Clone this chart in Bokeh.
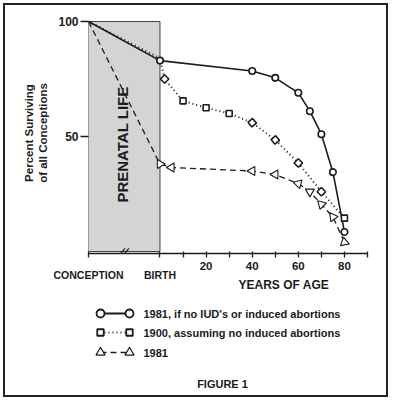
import math
from bokeh.plotting import figure
from bokeh.models import Range1d, FixedTicker, LinearAxis, Title
from bokeh.layouts import column
from bokeh.core.properties import value
from bokeh.embed import file_html
from bokeh.resources import INLINE

# ---------------- data ----------------
conception_pos = -31          # position of "CONCEPTION" on the age axis
start_pct = 100               # everybody alive at conception

ages_no_iud = [0, 40, 50, 60, 65, 70, 75, 80]
pct_no_iud = [83, 78.5, 75.5, 69, 61, 51, 34.5, 8.5]

ages_1900 = [0, 2, 10, 20, 30, 40, 50, 60, 70, 80]
pct_1900 = [84, 75, 65.5, 62.5, 60, 56, 48.5, 38.5, 26, 14.5]

ages_1981 = [0, 5, 40, 50, 60, 65, 70, 75, 80]
pct_1981 = [38, 36.5, 35, 33.5, 29.5, 26, 20.5, 15, 4]

age_ticks = [0, 10, 20, 30, 40, 50, 60, 70, 80, 90]
age_tick_labels = ["", "", "20", "", "40", "", "60", "", "80", ""]
stage_labels = ["CONCEPTION", "BIRTH"]
pct_ticks = [50, 100]

legend_labels = ["1981, if no IUD's or induced abortions",
                 "1900, assuming no induced abortions",
                 "1981"]

# ---------------- styles ----------------
FONT = "Liberation Sans"
INK = "#1b1b1b"
square_angles_deg = [45, 0, 0, 0, 40, 40, 45, 45, 0]
triangle_angles_deg = [-90, 90, 90, 90, 75, 60, 45, 35, 10]

# geometry (page pixels)
OX, OY = 5, 5                 # inside of the outer border
W = 381
FR_L, FR_R, FR_T, FR_B = 88, 367, 12, 253
P_BOTTOM = 297
Q_BOTTOM = 395
PX_PER = 2.3
Y0 = -(FR_B - 251) / PX_PER
Y1 = Y0 + (FR_B - FR_T) / PX_PER
X0, X1 = conception_pos, 90

BL = FR_L - OX
BR = W - BL - (FR_R - FR_L)

p = figure(width=W, height=P_BOTTOM - OY, output_backend="svg", toolbar_location=None,
           x_range=Range1d(X0, X1), y_range=Range1d(Y0, Y1),
           frame_width=FR_R - FR_L, frame_height=FR_B - FR_T,
           min_border_left=BL, min_border_right=BR,
           min_border_top=FR_T - OY, min_border_bottom=P_BOTTOM - FR_B)
p.outline_line_color = None
p.xgrid.visible = False
p.ygrid.visible = False

# x axis (numbers)
xa = p.xaxis[0]
xa.ticker = FixedTicker(ticks=[conception_pos] + age_ticks)
xa.major_label_overrides = {t: l for t, l in zip(age_ticks, age_tick_labels)}
xa.major_label_overrides[conception_pos] = ""
xa.axis_line_color = INK
xa.axis_line_width = 1.5
xa.major_tick_line_color = INK
xa.major_tick_line_width = 1.3
xa.major_tick_in = 2
xa.major_tick_out = 4
xa.minor_tick_line_color = None
xa.major_label_standoff = 4
xa.major_label_text_font = FONT
xa.major_label_text_font_style = "bold"
xa.major_label_text_font_size = "11.5px"
xa.major_label_text_color = INK

# second x axis row: CONCEPTION / BIRTH
xb = LinearAxis(ticker=FixedTicker(ticks=[conception_pos, 0]),
                major_label_overrides={conception_pos: stage_labels[0], 0: stage_labels[1]},
                axis_line_color=None, major_tick_line_color=None, minor_tick_line_color=None,
                major_tick_in=0, major_tick_out=0, major_label_standoff=-4,
                major_label_text_font=FONT, major_label_text_font_style="bold",
                major_label_text_font_size="10.5px", major_label_text_color=INK)
p.add_layout(xb, "below")

p.add_layout(Title(text="YEARS OF AGE", align="left", offset=238 - FR_L, standoff=-12,
                   vertical_align="top",
                   text_font=FONT, text_font_style="bold", text_font_size="12px",
                   text_color=INK), "below")

# y axis
ya = p.yaxis[0]
ya.ticker = FixedTicker(ticks=pct_ticks)
ya.axis_line_color = None
ya.major_tick_line_color = INK
ya.major_tick_line_width = 1.3
ya.major_tick_in = 0
ya.major_tick_out = 8
ya.minor_tick_line_color = None
ya.major_label_standoff = 2
ya.major_label_text_font = FONT
ya.major_label_text_font_style = "bold"
ya.major_label_text_font_size = "12px"
ya.major_label_text_color = INK
ya.axis_label = "of all Conceptions"
ya.axis_label_standoff = 6
ya.axis_label_text_font = FONT
ya.axis_label_text_font_style = "bold"
ya.axis_label_text_font_size = "11.5px"
ya.axis_label_text_color = INK

yb = LinearAxis(ticker=FixedTicker(ticks=[]), axis_line_color=None,
                major_tick_line_color=None, minor_tick_line_color=None,
                major_tick_in=0, major_tick_out=0, major_label_standoff=0,
                axis_label="Percent Surviving", axis_label_standoff=0,
                axis_label_text_font=FONT, axis_label_text_font_style="bold",
                axis_label_text_font_size="11.5px", axis_label_text_color=INK)
p.add_layout(yb, "left")

# prenatal shaded box
p.quad(left=[conception_pos], right=[0], bottom=[0], top=[start_pct],
       fill_color="#d4d4d4", line_color="#444444", line_width=1)
p.text(x=[conception_pos / 2 - 0.8], y=[start_pct / 2 - 3.5], text=["PRENATAL LIFE"],
       angle=math.pi / 2, text_align="center", text_baseline="middle",
       text_font=value(FONT), text_font_style="bold", text_font_size="15px",
       text_color=INK)

# axis break marks
for off in (-16.1, -14.4):
    p.line([off - 0.9, off + 0.9], [Y0, Y0 + 2.2], line_color=INK, line_width=1.2)

# lines
p.line([conception_pos] + ages_no_iud, [start_pct] + pct_no_iud,
       line_color=INK, line_width=1.6)
p.line([conception_pos] + ages_1900, [start_pct] + pct_1900,
       line_color=INK, line_width=2, line_dash="1 3")
p.line([conception_pos] + ages_1981, [start_pct] + pct_1981,
       line_color=INK, line_width=1.3, line_dash="6 4")

# markers
p.scatter(ages_no_iud, pct_no_iud, marker="circle", size=6.5,
          fill_color="white", line_color=INK, line_width=1.6)
p.scatter(ages_1900[1:], pct_1900[1:], marker="square", size=6,
          angle=[math.radians(a) for a in square_angles_deg],
          fill_color="white", line_color=INK, line_width=1.6)
p.scatter(ages_1981, pct_1981, marker="triangle", size=9,
          angle=[math.radians(a) for a in triangle_angles_deg],
          fill_color="white", line_color=INK, line_width=1.1)

# ---------------- legend / caption panel ----------------
q = figure(width=W, height=Q_BOTTOM - P_BOTTOM, output_backend="svg", toolbar_location=None,
           x_range=Range1d(FR_L, FR_R), y_range=Range1d(Q_BOTTOM, P_BOTTOM),
           frame_width=FR_R - FR_L, frame_height=Q_BOTTOM - P_BOTTOM,
           min_border_left=BL, min_border_right=BR, min_border_top=0, min_border_bottom=0)
q.axis.visible = False
q.grid.visible = False
q.outline_line_color = None

rows_y = [313, 332, 352]
gx = [100, 129]
q.line(gx, [rows_y[0]] * 2, line_color=INK, line_width=1.8)
q.scatter(gx, [rows_y[0]] * 2, marker="circle", size=8, fill_color="white",
          line_color=INK, line_width=1.8)
q.line(gx, [rows_y[1]] * 2, line_color=INK, line_width=2, line_dash="1 3")
q.scatter(gx, [rows_y[1]] * 2, marker="square", size=6.5, fill_color="white",
          line_color=INK, line_width=1.8)
q.line(gx, [rows_y[2]] * 2, line_color=INK, line_width=1.4, line_dash="6 4")
q.scatter(gx, [rows_y[2]] * 2, marker="triangle", size=9, fill_color="white",
          line_color=INK, line_width=1.2)

q.text(x=[143] * 3, y=rows_y, text=legend_labels, text_font=value(FONT),
       text_font_style="bold", text_font_size="11px", text_color=INK,
       text_baseline="middle", text_align="left")
q.text(x=[222], y=[383], text=["FIGURE 1"], text_font=value(FONT),
       text_font_style="bold", text_font_size="11px", text_color=INK,
       text_baseline="middle", text_align="center")

layout = column(p, q, spacing=0,
                styles={"margin": "3px 0 0 3px", "border": "2px solid #222222"})

open("out.html", "w").write(file_html(layout, INLINE))
